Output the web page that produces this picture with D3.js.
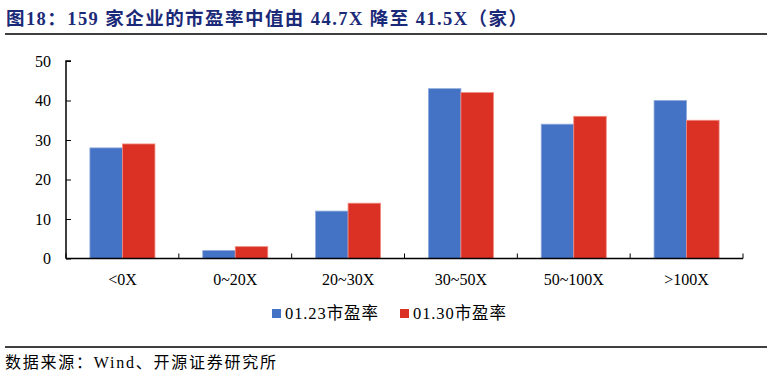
<!DOCTYPE html>
<html><head><meta charset="utf-8">
<script src="https://cdn.jsdelivr.net/npm/d3@7"></script>
<style>
body{margin:0;background:#fff;}
svg text{font-family:"Liberation Serif","Noto Sans CJK SC",serif;}
</style></head>
<body><svg id="c" width="776" height="381"></svg>
<script>
const categories = ["<0X","0~20X","20~30X","30~50X","50~100X",">100X"];
const seriesNames = ["01.23市盈率","01.30市盈率"];
const series0123 = [28,2,12,43,34,40];
const series0130 = [29,3,14,42,36,35];
const yTicks = [0,10,20,30,40,50];
const titleText = "图18：159 家企业的市盈率中值由 44.7X 降至 41.5X（家）";
const sourceText = "数据来源：Wind、开源证券研究所";
const colors = ["#4472C4","#DA3124"];
const strokes = ["#8FAADC","#F08A80"];

const svg = d3.select("#c");
const pLeft = 66, pRight = 743, pTop = 61, pBottom = 258.5;

svg.append("text").attr("x",6).attr("y",25).attr("font-size",18.5).attr("font-weight","bold")
  .attr("fill","#1B2A78").attr("textLength",521).attr("lengthAdjust","spacing").text(titleText);
svg.append("line").attr("x1",5).attr("x2",767).attr("y1",34).attr("y2",34).attr("stroke","#000").attr("stroke-width",1.5);

const x = d3.scaleBand().domain(categories).range([pLeft,pRight]);
const y = d3.scaleLinear().domain([0,50]).range([pBottom,pTop]);
const xs = d3.scaleBand().domain([0,1]).range([0,x.bandwidth()]).paddingOuter(0.735).paddingInner(0);
const data = [series0123, series0130];

data.forEach((vals,si)=>{
  svg.append("g").selectAll("rect").data(vals).join("rect")
    .attr("x",(d,i)=>x(categories[i])+xs(si))
    .attr("y",d=>y(d))
    .attr("width",xs.bandwidth())
    .attr("height",d=>pBottom-y(d))
    .attr("fill",colors[si])
    .attr("stroke",strokes[si]).attr("stroke-width",0.8);
});

// y axis
const ya = svg.append("g").attr("transform",`translate(${pLeft},0)`)
  .call(d3.axisRight(y).tickValues(yTicks).tickSize(5).tickFormat(""));
ya.select(".domain").attr("d",`M5,${pTop}H0V${pBottom}`).attr("stroke","#000").attr("stroke-width",1.5);
ya.selectAll(".tick line").attr("stroke","#000");
svg.append("g").selectAll("text").data(yTicks).join("text")
  .attr("x",51).attr("y",d=>y(d)+5.5).attr("text-anchor","end").attr("font-size",16).attr("fill","#000").text(d=>d);

// x axis
const boundaries = categories.map(c=>x(c)).concat([pRight]);
svg.append("line").attr("x1",pLeft).attr("x2",pRight).attr("y1",pBottom).attr("y2",pBottom).attr("stroke","#000").attr("stroke-width",1.5);
svg.append("g").selectAll("line").data(boundaries).join("line")
  .attr("x1",d=>d).attr("x2",d=>d).attr("y1",pBottom).attr("y2",pBottom-5).attr("stroke","#000");
svg.append("g").selectAll("text").data(categories).join("text")
  .attr("x",d=>x(d)+x.bandwidth()/2).attr("y",285).attr("text-anchor","middle").attr("font-size",16).attr("fill","#000").text(d=>d);

// legend
const lg = [{x:272,name:seriesNames[0],c:colors[0]},{x:400,name:seriesNames[1],c:colors[1]}];
lg.forEach(l=>{
  svg.append("rect").attr("x",l.x).attr("y",309).attr("width",9).attr("height",9).attr("fill",l.c);
  svg.append("text").attr("x",l.x+13).attr("y",319).attr("font-size",16.5).attr("fill","#000")
    .attr("textLength",93).attr("lengthAdjust","spacing").text(l.name);
});

svg.append("line").attr("x1",5).attr("x2",767).attr("y1",347).attr("y2",347).attr("stroke","#000").attr("stroke-width",1.5);
svg.append("text").attr("x",5).attr("y",368).attr("font-size",16).attr("fill","#000")
  .attr("textLength",271).attr("lengthAdjust","spacing").text(sourceText);
</script></body></html>
